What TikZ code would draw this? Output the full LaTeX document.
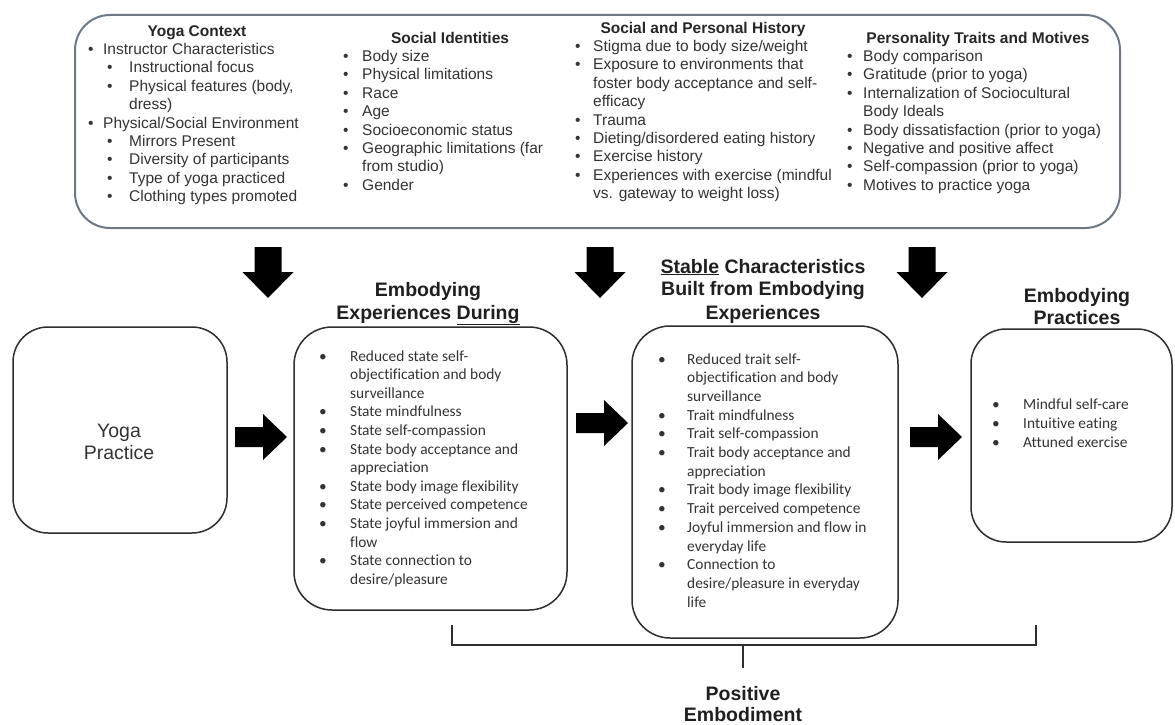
\documentclass[tikz,border=0pt]{standalone}
\usepackage{fontspec}
\setmainfont{Liberation Sans}
\newfontfamily\calfont[Ligatures=NoCommon]{Carlito}
\definecolor{txt}{HTML}{333333}
\definecolor{topline}{HTML}{6E7882}
\definecolor{boxline}{HTML}{2E2E2E}
\newcommand\itm[2]{\makebox[#1][l]{\textbullet}#2}
\newcommand\cnt[2]{\hspace*{#1}#2}
\tikzset{
 toptext/.style={anchor=base west, inner sep=0pt, text=txt, font=\fontsize{15.5}{18}\selectfont},
 tophead/.style={anchor=base, inner sep=0pt, text=black!85, font=\fontsize{15.5}{18}\selectfont\bfseries},
 boxtext/.style={anchor=base west, inner sep=0pt, text=txt, font=\calfont\fontsize{15.4}{18}\selectfont},
 titletext/.style={anchor=base, inner sep=0pt, text=black!88, font=\fontsize{19.5}{23}\selectfont\bfseries},
 panel/.style={draw=boxline, line width=1.5pt, rounded corners=38pt, inner sep=0pt},
 blockarrow/.style={fill=black},
 bracketline/.style={draw=boxline, line width=1.5pt},
}
\begin{document}
\begin{tikzpicture}[x=1pt,y=-1pt]
\useasboundingbox (0,0) rectangle (1175,725);
\fill[white] (0,0) rectangle (1175,725);

% ---------- top context panel ----------
\node[panel, draw=topline, line width=2pt, rounded corners=35pt, minimum width=1045pt, minimum height=213pt] (ctx) at (597.5,121.5) {};

\node[tophead] (h1) at (197,37) {Yoga Context};
\foreach \t [count=\i from 0] in {
 {\itm{15pt}{Instructor Characteristics}},
 {\cnt{19pt}{\itm{22pt}{Instructional focus}}},
 {\cnt{19pt}{\itm{22pt}{Physical features (body,}}},
 {\cnt{41pt}{dress)}},
 {\itm{15pt}{Physical/Social Environment}},
 {\cnt{19pt}{\itm{22pt}{Mirrors Present}}},
 {\cnt{19pt}{\itm{22pt}{Diversity of participants}}},
 {\cnt{19pt}{\itm{22pt}{Type of yoga practiced}}},
 {\cnt{19pt}{\itm{22pt}{Clothing types promoted}}}}
 \node[toptext] (yc\i) at (88,{54.5+18.4*\i}) {\t};

\node[tophead] (h2) at (450,43.5) {Social Identities};
\foreach \t [count=\i from 0] in {
 {\itm{19pt}{Body size}},
 {\itm{19pt}{Physical limitations}},
 {\itm{19pt}{Race}},
 {\itm{19pt}{Age}},
 {\itm{19pt}{Socioeconomic status}},
 {\itm{19pt}{Geographic limitations (far}},
 {\cnt{19pt}{from studio)}},
 {\itm{19pt}{Gender}}}
 \node[toptext] (si\i) at (343,{61.5+18.4*\i}) {\t};

\node[tophead] (h3) at (703,33.5) {Social and Personal History};
\foreach \t [count=\i from 0] in {
 {\itm{18pt}{Stigma due to body size/weight}},
 {\itm{18pt}{Exposure to environments that}},
 {\cnt{18pt}{foster body acceptance and self-}},
 {\cnt{18pt}{efficacy}},
 {\itm{18pt}{Trauma}},
 {\itm{18pt}{Dieting/disordered eating history}},
 {\itm{18pt}{Exercise history}},
 {\itm{18pt}{Experiences with exercise (mindful}},
 {\cnt{18pt}{vs. gateway to weight loss)}}}
 \node[toptext] (sp\i) at (575,{51.5+18.4*\i}) {\t};

\node[tophead] (h4) at (978,43.5) {Personality Traits and Motives};
\foreach \t [count=\i from 0] in {
 {\itm{16pt}{Body comparison}},
 {\itm{16pt}{Gratitude (prior to yoga)}},
 {\itm{16pt}{Internalization of Sociocultural}},
 {\cnt{16pt}{Body Ideals}},
 {\itm{16pt}{Body dissatisfaction (prior to yoga)}},
 {\itm{16pt}{Negative and positive affect}},
 {\itm{16pt}{Self-compassion (prior to yoga)}},
 {\itm{16pt}{Motives to practice yoga}}}
 \node[toptext] (pt\i) at (847,{61.5+18.4*\i}) {\t};

% ---------- down arrows ----------
\foreach \x [count=\i] in {268,600,922}{
 \coordinate (da\i) at (\x,298);
 \fill[blockarrow] (da\i) -- ++(-25.5,-26) -- ++(12,0) -- ++(0,-25) -- ++(27,0) -- ++(0,25) -- ++(12,0) -- cycle;
}

% ---------- main row ----------
\node[panel, rounded corners=35pt, minimum width=214pt, minimum height=206pt] (yoga) at (120,430) {};
\node[inner sep=0pt, align=center, text=txt, font=\fontsize{19.5}{22}\selectfont] (yogat) at (119,442) {Yoga\\Practice};

\node[panel, minimum width=273pt, minimum height=283pt] (during) at (430.5,468.5) {};
\node[titletext] (dt1) at (428,296) {Embodying};
\node[titletext] (dt2) at (428,319) {Experiences \underline{During}};
\foreach \t [count=\i from 0] in {
 {\itm{31pt}{Reduced state self-}},
 {\cnt{31pt}{objectification and body}},
 {\cnt{31pt}{surveillance}},
 {\itm{31pt}{State mindfulness}},
 {\itm{31pt}{State self-compassion}},
 {\itm{31pt}{State body acceptance and}},
 {\cnt{31pt}{appreciation}},
 {\itm{31pt}{State body image flexibility}},
 {\itm{31pt}{State perceived competence}},
 {\itm{31pt}{State joyful immersion and}},
 {\cnt{31pt}{flow}},
 {\itm{31pt}{State connection to}},
 {\cnt{31pt}{desire/pleasure}}}
 \node[boxtext] (du\i) at (319,{361+18.6*\i}) {\t};

\node[panel, minimum width=266pt, minimum height=312pt] (stable) at (765,482) {};
\node[titletext] (st1) at (763,273) {\underline{Stable} Characteristics};
\node[titletext] (st2) at (763,295) {Built from Embodying};
\node[titletext] (st3) at (763,319) {Experiences};
\foreach \t [count=\i from 0] in {
 {\itm{29pt}{Reduced trait self-}},
 {\cnt{29pt}{objectification and body}},
 {\cnt{29pt}{surveillance}},
 {\itm{29pt}{Trait mindfulness}},
 {\itm{29pt}{Trait self-compassion}},
 {\itm{29pt}{Trait body acceptance and}},
 {\cnt{29pt}{appreciation}},
 {\itm{29pt}{Trait body image flexibility}},
 {\itm{29pt}{Trait perceived competence}},
 {\itm{29pt}{Joyful immersion and flow in}},
 {\cnt{29pt}{everyday life}},
 {\itm{29pt}{Connection to}},
 {\cnt{29pt}{desire/pleasure in everyday}},
 {\cnt{29pt}{life}}}
 \node[boxtext] (sb\i) at (658,{364+18.7*\i}) {\t};

\node[panel, rounded corners=35pt, minimum width=201pt, minimum height=213pt] (practice) at (1071.5,435.5) {};
\node[titletext] (pr1) at (1077,302) {Embodying};
\node[titletext] (pr2) at (1077,324) {Practices};
\foreach \t [count=\i from 0] in {
 {\itm{31pt}{Mindful self-care}},
 {\itm{31pt}{Intuitive eating}},
 {\itm{31pt}{Attuned exercise}}}
 \node[boxtext] (pp\i) at (992,{409+19*\i}) {\t};

% ---------- right arrows ----------
\coordinate (ra1) at (287,437);
\coordinate (ra2) at (628,423);
\coordinate (ra3) at (962,437);
\foreach \i in {1,2,3}{
 \fill[blockarrow] (ra\i) -- ++(-24,-23) -- ++(0,13) -- ++(-28,0) -- ++(0,20) -- ++(28,0) -- ++(0,13) -- cycle;
}

% ---------- bracket ----------
\coordinate (bl) at (452,625);
\coordinate (blc) at (452,645);
\coordinate (brc) at (1036,645);
\coordinate (br) at (1036,625);
\coordinate (bm) at (743,645);
\coordinate (bt) at (743,668);
\draw[bracketline] (bl) -- (blc) -- (brc) -- (br);
\draw[bracketline] (bm) -- (bt);
\node[titletext] (pe1) at (743,700) {Positive};
\node[titletext] (pe2) at (743,721) {Embodiment};
\end{tikzpicture}
\end{document}
